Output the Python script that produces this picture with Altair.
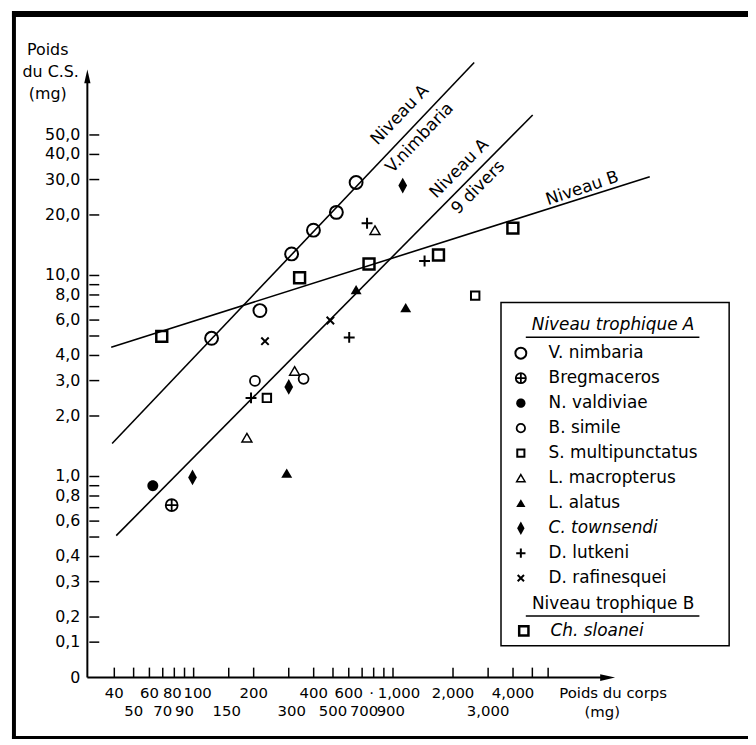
import altair as alt
import pandas as pd

# ---------------- data ----------------
species = ["V. nimbaria", "Bregmaceros", "N. valdiviae", "B. simile", "S. multipunctatus",
           "L. macropterus", "L. alatus", "C. townsendi", "D. lutkeni", "D. rafinesquei",
           "Ch. sloanei"]

nimbaria_x = [123, 215, 310, 399, 520, 653]
nimbaria_y = [4.87, 6.69, 12.8, 16.8, 20.6, 29.0]
bregmaceros_x = [77.6]
bregmaceros_y = [0.72]
valdiviae_x = [62.4]
valdiviae_y = [0.90]
simile_x = [203, 356]
simile_y = [2.99, 3.06]
multipunctatus_x = [233, 2584]
multipunctatus_y = [2.46, 7.94]
macropterus_x = [185, 321, 812]
macropterus_y = [1.56, 3.35, 16.8]
alatus_x = [293, 653, 1158]
alatus_y = [1.04, 8.5, 6.92]
townsendi_x = [98.7, 300, 1119]
townsendi_y = [0.99, 2.79, 28.0]
lutkeni_x = [194, 603, 741, 1440]
lutkeni_y = [2.46, 4.92, 18.2, 11.8]
rafinesquei_x = [228, 485]
rafinesquei_y = [4.71, 5.97]
sloanei_x = [69.2, 340, 758, 1691, 3993]
sloanei_y = [4.98, 9.74, 11.4, 12.65, 17.2]

# regression lines (end points)
line_names = ["A_nimbaria", "A_divers", "B"]
line_x0 = [39.0, 40.9, 38.6]
line_y0 = [1.46, 0.508, 4.40]
line_x1 = [2554, 5020, 19400]
line_y1 = [114.6, 62.8, 31.0]

# line labels
lab_text = ["Niveau A", "V.nimbaria", "Niveau A", "9 divers", "Niveau B"]
lab_x = [1082, 1360, 2150, 2674, 8900]
lab_y = [62.8, 48.3, 34.0, 27.4, 27.1]

# axes
y_tick_vals = [50, 40, 30, 20, 10, 9, 8, 7, 6, 5, 4, 3, 2, 1, 0.9, 0.8, 0.7, 0.6, 0.5,
               0.4, 0.3, 0.2, 0.15]
y_label_vals = [50, 40, 30, 20, 10, 8, 6, 4, 3, 2, 1, 0.8, 0.6, 0.4, 0.3, 0.2, 0.15, 0.1]
y_label_text = ["50,0", "40,0", "30,0", "20,0", "10,0", "8,0", "6,0", "4,0", "3,0", "2,0",
                "1,0", "0,8", "0,6", "0,4", "0,3", "0,2", "0,1", "0"]
x_tick_vals = [40, 50, 60, 70, 80, 90, 100, 150, 200, 300, 400, 500, 600, 700, 800, 900,
               1000, 2000, 3000, 4000, 5000, 6000]
x_row1_vals = [40, 60, 80, 100, 200, 400, 600, 800, 1000, 2000, 4000]
x_row1_text = ["40", "60", "80", "100", "200", "400", "600", "·", "1,000", "2,000", "4,000"]
x_row2_vals = [50, 70, 90, 150, 300, 500, 700, 900, 3000]
x_row2_text = ["50", "70", "90", "150", "300", "500", "700", "900", "3,000"]

# ---------------- layout / style ----------------
W, H = 532, 608
X_DOMAIN = [29.3, 13000]
Y_DOMAIN = [0.1, 100]
PX_PER_DECADE_X = W / 2.6471
FONT = "DejaVu Sans"
label_nudge = {80: -2, 100: 4, 150: -2, 300: 3, 700: 2, 800: -2, 900: 7, 1000: 6}

xs = alt.Scale(type="log", domain=X_DOMAIN, nice=False)
ys = alt.Scale(type="log", domain=Y_DOMAIN, nice=False)

CIRCLE = "M1,0A1,1,0,1,1,-1,0A1,1,0,1,1,1,0Z"
OPLUS = "M1,0A1,1,0,1,1,-1,0A1,1,0,1,1,1,0ZM-1,0L1,0M0,-1L0,1"
SQUARE = "M-1,-1L1,-1L1,1L-1,1Z"
TRI = "M0,-0.85L1,0.85L-1,0.85Z"
DIAMOND = "M0,-1L0.55,0L0,1L-0.55,0Z"
PLUS = "M-1,0L1,0M0,-1L0,1"
CROSS = "M-1,-1L1,1M-1,1L1,-1"

# path, filled, size, strokeWidth, italic label
styles = {
    "V. nimbaria": (CIRCLE, False, 169, 2.0, False),
    "Bregmaceros": (OPLUS, False, 144, 1.8, False),
    "N. valdiviae": (CIRCLE, True, 121, 1.0, False),
    "B. simile": (CIRCLE, False, 100, 1.8, False),
    "S. multipunctatus": (SQUARE, False, 72, 2.0, False),
    "L. macropterus": (TRI, False, 100, 1.5, False),
    "L. alatus": (TRI, True, 121, 1.0, False),
    "C. townsendi": (DIAMOND, True, 256, 1.0, True),
    "D. lutkeni": (PLUS, False, 121, 2.0, False),
    "D. rafinesquei": (CROSS, False, 56, 2.0, False),
    "Ch. sloanei": (SQUARE, False, 121, 2.5, True),
}
data_xy = {
    "V. nimbaria": (nimbaria_x, nimbaria_y),
    "Bregmaceros": (bregmaceros_x, bregmaceros_y),
    "N. valdiviae": (valdiviae_x, valdiviae_y),
    "B. simile": (simile_x, simile_y),
    "S. multipunctatus": (multipunctatus_x, multipunctatus_y),
    "L. macropterus": (macropterus_x, macropterus_y),
    "L. alatus": (alatus_x, alatus_y),
    "C. townsendi": (townsendi_x, townsendi_y),
    "D. lutkeni": (lutkeni_x, lutkeni_y),
    "D. rafinesquei": (rafinesquei_x, rafinesquei_y),
    "Ch. sloanei": (sloanei_x, sloanei_y),
}

one = pd.DataFrame({"k": [0]})
layers = []


def XQ(f):
    return alt.X(f"{f}:Q", scale=xs, axis=None)


def YQ(f):
    return alt.Y(f"{f}:Q", scale=ys, axis=None)


# frame (left, top, bottom)
for x0, x1, y0, y1 in [(-76, -72, -64, 670), (-76, 666, -64, -58), (-76, 666, 667, 670)]:
    layers.append(alt.Chart(one).mark_rect(color="black").encode(
        x=alt.value(x0), x2=alt.value(x1), y=alt.value(y0), y2=alt.value(y1)))

# axes lines and arrows
layers.append(alt.Chart(one).mark_rule(color="black", strokeWidth=2).encode(
    x=alt.value(0), y=alt.value(H), y2=alt.value(2)))
layers.append(alt.Chart(one).mark_rule(color="black", strokeWidth=2).encode(
    x=alt.value(0), x2=alt.value(W - 10), y=alt.value(H)))
layers.append(alt.Chart(one).mark_point(shape="M0,-1L0.45,1L-0.45,1Z", filled=True, size=196,
                                        color="black", opacity=1).encode(
    x=alt.value(0), y=alt.value(2)))
layers.append(alt.Chart(one).mark_point(shape="M1,0L-1,0.45L-1,-0.45Z", filled=True, size=225,
                                        color="black", opacity=1).encode(
    x=alt.value(W - 7.5), y=alt.value(H)))

# y ticks and labels
layers.append(alt.Chart(pd.DataFrame({"v": y_tick_vals})).mark_rule(
    color="black", strokeWidth=1.5).encode(y=YQ("v"), x=alt.value(2), x2=alt.value(12)))
layers.append(alt.Chart(pd.DataFrame({"v": y_label_vals, "t": y_label_text})).mark_text(
    font=FONT, fontSize=16, align="right", baseline="middle", color="black").encode(
    y=YQ("v"), x=alt.value(-7), text="t:N"))

# x ticks and labels
layers.append(alt.Chart(pd.DataFrame({"v": x_tick_vals})).mark_rule(
    color="black", strokeWidth=1.5).encode(x=XQ("v"), y=alt.value(H - 10), y2=alt.value(H)))
for vals, texts, yoff in [(x_row1_vals, x_row1_text, 16), (x_row2_vals, x_row2_text, 34)]:
    pos = [v * 10 ** (label_nudge.get(v, 0) / PX_PER_DECADE_X) for v in vals]
    layers.append(alt.Chart(pd.DataFrame({"v": pos, "t": texts})).mark_text(
        font=FONT, fontSize=15, align="center", baseline="middle", color="black").encode(
        x=XQ("v"), y=alt.value(H + yoff), text="t:N"))

# axis titles
for txt, px, py, fs in [("Poids", -40, -25, 16), ("du C.S.", -37, -2, 16), ("(mg)", -40, 20, 16),
                        ("Poids du corps", 530, H + 16, 15), ("(mg)", 519, H + 35, 15)]:
    layers.append(alt.Chart(one).mark_text(font=FONT, fontSize=fs, align="center",
                                           baseline="middle", color="black").encode(
        x=alt.value(px), y=alt.value(py), text=alt.value(txt)))

# regression lines
ldf = pd.DataFrame({
    "name": line_names * 2,
    "x": line_x0 + line_x1,
    "y": line_y0 + line_y1,
})
layers.append(alt.Chart(ldf).mark_line(color="black", strokeWidth=1.6).encode(
    x=XQ("x"), y=YQ("y"), detail="name:N"))

# line labels
lab_angle = [313.5, 313.5, 314.7, 314.7, 341.5]
layers.append(alt.Chart(pd.DataFrame({"x": lab_x, "y": lab_y, "t": lab_text, "a": lab_angle}))
              .mark_text(font=FONT, fontSize=17, align="center", baseline="middle",
                         color="black").encode(
    x=XQ("x"), y=YQ("y"), text="t:N", angle=alt.Angle("a:Q", scale=None)))

# data points
for sp in species:
    path, filled, size, sw, _ = styles[sp]
    xv, yv = data_xy[sp]
    layers.append(alt.Chart(pd.DataFrame({"x": xv, "y": yv})).mark_point(
        shape=path, filled=filled, size=size, strokeWidth=sw, color="black", opacity=1).encode(
        x=XQ("x"), y=YQ("y")))

# legend box
layers.append(alt.Chart(one).mark_rect(fillOpacity=0, stroke="black", strokeWidth=1.5).encode(
    x=alt.value(417), x2=alt.value(647), y=alt.value(230), y2=alt.value(576)))
layers.append(alt.Chart(one).mark_text(font=FONT, fontSize=17, fontStyle="italic",
                                       align="center", baseline="middle", color="black").encode(
    x=alt.value(530), y=alt.value(253), text=alt.value("Niveau trophique A")))
layers.append(alt.Chart(one).mark_text(font=FONT, fontSize=17, align="center",
                                       baseline="middle", color="black").encode(
    x=alt.value(530), y=alt.value(534), text=alt.value("Niveau trophique B")))
for yy in [265, 546]:
    layers.append(alt.Chart(one).mark_rule(color="black", strokeWidth=1.5).encode(
        x=alt.value(442), x2=alt.value(617), y=alt.value(yy)))

for i, sp in enumerate(species):
    path, filled, size, sw, italic = styles[sp]
    if sp == "Ch. sloanei":
        ry, sx, tx = 561, 440, 467
    else:
        ry, sx, tx = 281 + 25.2 * i, 437, 465
    layers.append(alt.Chart(one).mark_point(
        shape=path, filled=filled, size=size * 0.72, strokeWidth=sw, color="black",
        opacity=1).encode(x=alt.value(sx), y=alt.value(ry)))
    layers.append(alt.Chart(one).mark_text(
        font=FONT, fontSize=17, fontStyle="italic" if italic else "normal", align="left",
        baseline="middle", color="black").encode(
        x=alt.value(tx), y=alt.value(ry), text=alt.value(sp.replace(". ", ".  ") if sp != "Ch. sloanei" else sp)))

chart = alt.layer(*layers).properties(
    width=W, height=H,
    autosize=alt.AutoSizeParams(type="none"),
    padding={"left": 80, "top": 64, "right": 134, "bottom": 62},
    background="white",
).configure_view(strokeWidth=0)

chart.save("out.html", embed_options={"renderer": "svg", "actions": False})
